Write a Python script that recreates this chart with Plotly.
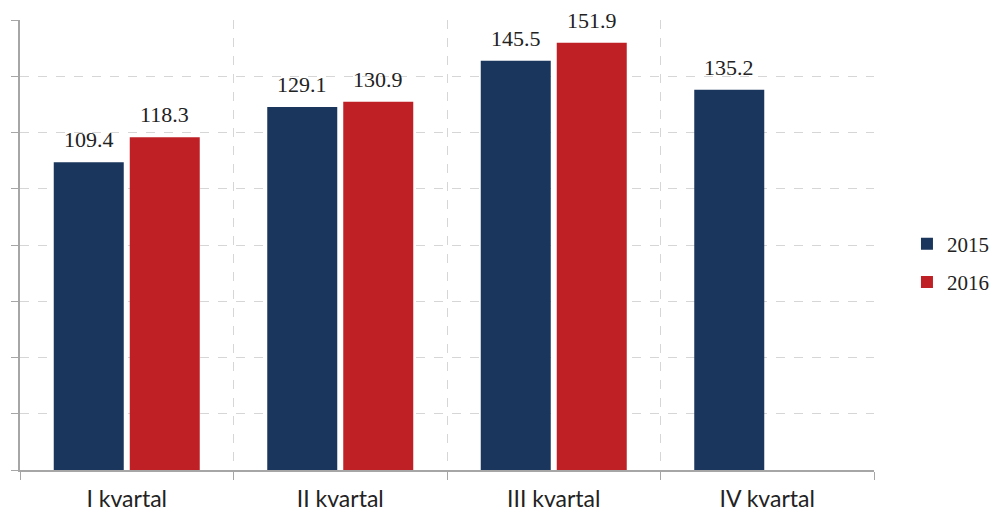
import plotly.graph_objects as go

categories = ["I kvartal", "II kvartal", "III kvartal", "IV kvartal"]
series_names = ["2015", "2016"]
values_2015 = [109.4, 129.1, 145.5, 135.2]
values_2016 = [118.3, 130.9, 151.9, None]
colors = ["#1a365d", "#be2026"]

fig = go.Figure()
for name, vals, col in zip(series_names, [values_2015, values_2016], colors):
    fig.add_trace(go.Bar(
        x=categories, y=vals, name=name, legendgroup=name,
        marker=dict(color=col, line=dict(width=0)),
    ))

# value labels
for k, vals in enumerate([values_2015, values_2016]):
    shift = -38 if k == 0 else 38
    for c, v in zip(categories, vals):
        if v is None:
            continue
        fig.add_annotation(
            x=c, y=v, text=f"{v:.1f}", showarrow=False,
            xshift=shift, yshift=8, yanchor="bottom",
            font=dict(family="Liberation Serif", size=22, color="#222222"),
        )

fig.update_layout(
    width=997, height=512,
    margin=dict(l=12, r=131, t=12, b=50, autoexpand=False),
    paper_bgcolor="white", plot_bgcolor="white",
    barmode="group", bargap=0.288, bargroupgap=0.079,
    showlegend=True,
    legend=dict(
        x=1.0386, y=0.46, xanchor="left", yanchor="middle",
        font=dict(family="Liberation Serif", size=21, color="#222222"),
        itemwidth=30, tracegroupgap=8, bgcolor="rgba(0,0,0,0)",
    ),
    xaxis=dict(
        type="category", tickson="boundaries",
        showline=True, linecolor="#a6a6a6", linewidth=2,
        ticks="outside", ticklen=8, tickcolor="#a6a6a6", tickwidth=1,
        showgrid=True, gridcolor="#d6d6d6", griddash="dash", gridwidth=1,
        tickfont=dict(family="Lato", size=23, color="#222222"),
        ticklabelstandoff=7,
        mirror=False, range=[-0.5, 3.5],
    ),
    yaxis=dict(
        range=[0, 160], dtick=20, tick0=0,
        showline=True, linecolor="#a6a6a6", linewidth=2,
        ticks="outside", ticklen=7, tickcolor="#a6a6a6", tickwidth=1,
        showticklabels=False,
        showgrid=True, gridcolor="#d6d6d6", griddash="dash", gridwidth=1,
        zeroline=False,
    ),
)

fig.write_html("out.html")
